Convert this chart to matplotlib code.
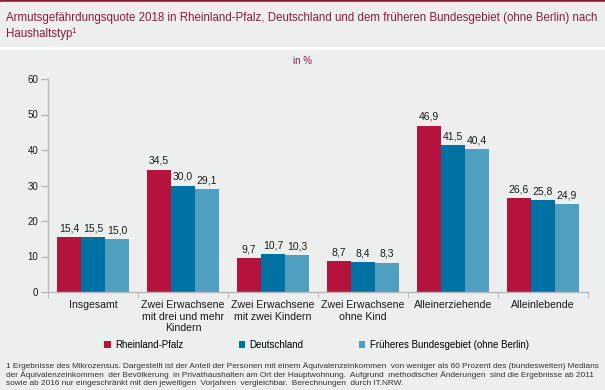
import matplotlib.pyplot as plt
from matplotlib.patches import Rectangle
import numpy as np

plt.rcParams['font.family'] = ['Liberation Sans', 'DejaVu Sans']

# data
categories = ['Insgesamt', 'Zwei Erwachsene\nmit drei und mehr\nKindern',
              'Zwei Erwachsene\nmit zwei Kindern', 'Zwei Erwachsene\nohne Kind',
              'Alleinerziehende', 'Alleinlebende']
series_names = ['Rheinland-Pfalz', 'Deutschland', 'Früheres Bundesgebiet (ohne Berlin)']
rlp = [15.4, 34.5, 9.7, 8.7, 46.9, 26.6]
de = [15.5, 30.0, 10.7, 8.4, 41.5, 25.8]
frueher = [15.0, 29.1, 10.3, 8.3, 40.4, 24.9]
y_ticks = [0, 10, 20, 30, 40, 50, 60]

colors = ['#b5133e', '#0071a3', '#4f9fc1']
bg = '#edeeee'
W, H = 605, 390

fig = plt.figure(figsize=(W / 100, H / 100), dpi=100, facecolor='white')

# background panels (pixel coords from the top)
def panel(top, bottom, color):
    fig.patches.append(Rectangle((0, 1 - bottom / H), 1, (bottom - top) / H,
                                 transform=fig.transFigure, color=color, zorder=-5))

panel(0, 2.5, '#8a1b35')
panel(2.5, 46, bg)
panel(50, 390, bg)

# title
fig.text(6 / W, 1 - 18 / H,
         'Armutsgefährdungsquote 2018 in Rheinland-Pfalz, Deutschland und dem früheren Bundesgebiet (ohne Berlin) nach',
         color='#8a1b3f', fontsize=8.3, va='center', ha='left')
fig.text(6 / W, 1 - 34 / H, 'Haushaltstyp¹', color='#8a1b3f', fontsize=8.3, va='center', ha='left')
fig.text(0.5, 1 - 61 / H, 'in %', color='#8a1b4b', fontsize=7, ha='center', va='center')

ax = fig.add_axes([48 / W, 98 / H, 540 / W, 213 / H])
ax.set_facecolor(bg)

x = np.arange(len(categories))
w = 0.8 / 3
for i, vals in enumerate([rlp, de, frueher]):
    bars = ax.bar(x + (i - 1) * w, vals, width=w, color=colors[i], label=series_names[i], zorder=2)
    for b, v in zip(bars, vals):
        ax.text(b.get_x() + b.get_width() / 2, v + 1.0, f'{v:.1f}'.replace('.', ','),
                ha='center', va='bottom', fontsize=7.5, color='#1a1a1a')

ax.set_xlim(-0.5, len(categories) - 0.5)
ax.set_ylim(0, 60)
ax.set_yticks(y_ticks)
ax.set_yticklabels([str(t) for t in y_ticks], fontsize=7, color='#1a1a1a')
ax.set_xticks(x)
ax.set_xticklabels(categories, fontsize=7.6, color='#1a1a1a', linespacing=1.15)
ax.set_xticks(np.arange(len(categories) + 1) - 0.5, minor=True)
ax.tick_params(axis='x', which='major', length=0, pad=6)
ax.tick_params(axis='x', which='minor', length=4, color='#b0b0b0', direction='out')
ax.tick_params(axis='y', length=5, color='#b0b0b0', pad=2)
for s in ['top', 'right']:
    ax.spines[s].set_visible(False)
for s in ['left', 'bottom']:
    ax.spines[s].set_color('#b8b8b8')
    ax.spines[s].set_linewidth(1)

handles, labels = ax.get_legend_handles_labels()
fig.legend(handles, labels, loc='center', bbox_to_anchor=(316.5 / W, 1 - 345 / H), ncol=3,
           frameon=False, fontsize=7, handlelength=0.65, handleheight=0.65,
           handletextpad=0.45, columnspacing=5.7)

footnote = ('1 Ergebnisse des Mikrozensus. Dargestellt ist der Anteil der Personen mit einem Äquivalenzeinkommen  von weniger als 60 Prozent des (bundesweiten) Medians\n'
            'der Äquivalenzeinkommen  der Bevölkerung  in Privathaushalten am Ort der Hauptwohnung.  Aufgrund  methodischer Änderungen  sind die Ergebnisse ab 2011\n'
            'sowie ab 2016 nur eingeschränkt mit den jeweiligen  Vorjahren  vergleichbar.  Berechnungen  durch IT.NRW.')
fig.text(6 / W, 1 - 362 / H, footnote, fontsize=5.95, color='#333333', va='top', ha='left',
         linespacing=1.25)

fig.savefig('out.png', dpi=100, facecolor='white')
